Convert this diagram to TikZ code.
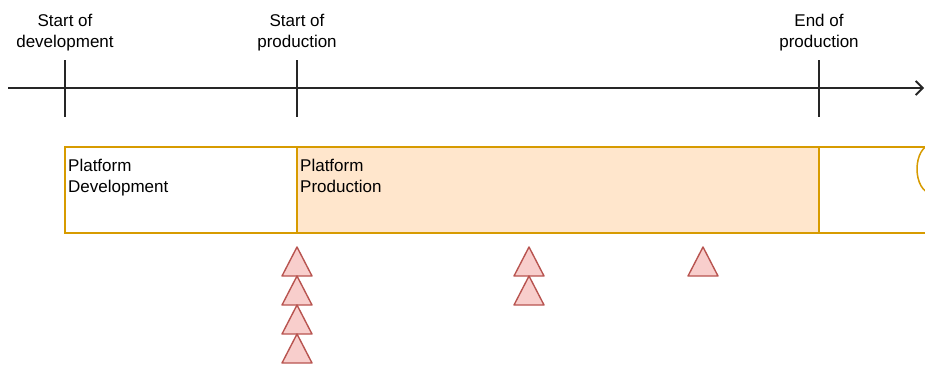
\documentclass[tikz,border=0pt]{standalone}
\usepackage{fontspec}
\setmainfont{Liberation Sans}
\usetikzlibrary{arrows.meta}
\definecolor{orng}{HTML}{D79B00}
\definecolor{orfill}{HTML}{FFE6CC}
\definecolor{redline}{HTML}{B85450}
\definecolor{redfill}{HTML}{F8CECC}
\tikzset{
  lbl/.style={font=\fontsize{17}{21}\selectfont, align=center, inner sep=0pt},
  boxlbl/.style={font=\fontsize{17}{21}\selectfont, align=left, anchor=north west, inner sep=0pt},
  band/.style={draw=orng, line width=1.5pt},
  tick/.style={line width=1.4pt, black!85},
  axis/.style={line width=1.8pt, black!85, -{Straight Barb[length=7pt,width=14pt]}},
  pics/tri/.style={code={\filldraw[fill=redfill, draw=redline, line width=1.4pt, line join=round]
      (-15,0) -- (0,29) -- (15,0) -- cycle;}}
}
\begin{document}
\begin{tikzpicture}[x=1pt, y=-1pt]
\useasboundingbox (0,0) rectangle (925,367);
% axis
\coordinate (a0) at (8,88);
\coordinate (a1) at (924,88);
\draw[axis] (a0) -- (a1);
% ticks
\foreach \n/\x in {t1/65, t2/297, t3/819}{
  \coordinate (\n top) at (\x,60);
  \coordinate (\n bot) at (\x,117);
  \draw[tick] (\n top) -- (\n bot);
}
% labels
\node[lbl] (l1) at (65,33) {Start of\\development};
\node[lbl] (l2) at (297,33) {Start of\\production};
\node[lbl] (l3) at (819,33) {End of\\production};
% bands
\begin{scope}
\clip (0,0) rectangle (925,367);
\draw[band, fill=orfill] (297,147) rectangle (819,233);
\draw[band, fill=white] (65,147) rectangle (297,233);
\draw[band, fill=white] (819,147) rectangle (940,233);
\draw[band, fill=white] (931,169) ellipse [x radius=14, y radius=24];
\end{scope}
\node[boxlbl] (p1) at (68,159) {Platform\\Development};
\node[boxlbl] (p2) at (300,159) {Platform\\Production};
% triangles (y axis flipped: apex at top)
\foreach \x/\y in {297/276, 297/305, 297/334, 297/363, 529/276, 529/305, 703/276}{
  \pic[yscale=-1] at (\x,\y) {tri};
}
\end{tikzpicture}
\end{document}
